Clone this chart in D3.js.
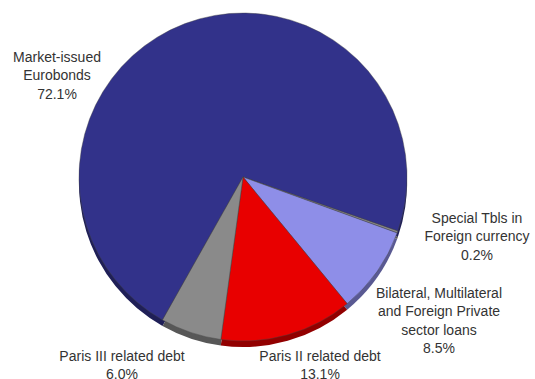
<!DOCTYPE html>
<html>
<head>
<meta charset="utf-8">
<script src="https://cdn.jsdelivr.net/npm/d3@7"></script>
<style>
  body { margin: 0; background: #fff; }
  text { font-family: "Liberation Sans", Helvetica, Arial, sans-serif; font-size: 14px; fill: #333; }
</style>
</head>
<body>
<div id="app"></div>
<script>
// debt composition
const categories = [
  "Market-issued Eurobonds",
  "Special Tbls in Foreign currency",
  "Bilateral, Multilateral and Foreign Private sector loans",
  "Paris II related debt",
  "Paris III related debt"
];
const shares = [72.1, 0.2, 8.5, 13.1, 6.0];
const labelLines = [
  ["Market-issued", "Eurobonds", "72.1%"],
  ["Special Tbls in", "Foreign currency", "0.2%"],
  ["Bilateral, Multilateral", "and Foreign Private", "sector loans", "8.5%"],
  ["Paris II related debt", "13.1%"],
  ["Paris III related debt", "6.0%"]
];
const colors = ["#32328a", "#8a8a8a", "#8e8ee8", "#e80000", "#8a8a8a"];

const width = 535, height = 379;
const cx = 243, cy = 177, radius = 164, depth = 6;

const svg = d3.select("#app").append("svg")
  .attr("width", width)
  .attr("height", height);

const deg = Math.PI / 180;
const pie = d3.pie().sort(null)
  .startAngle(-150.6 * deg)
  .endAngle(209.4 * deg);
const arcs = pie(shares);
const arc = d3.arc().innerRadius(0).outerRadius(radius);

// side / shadow of the 3d pie
const sideG = svg.append("g").attr("transform", `translate(${cx},${cy + depth})`);
sideG.selectAll("path")
  .data(arcs)
  .join("path")
  .attr("d", arc)
  .attr("fill", (d, i) => d3.color(colors[i]).darker(1.3));

const faceG = svg.append("g").attr("transform", `translate(${cx},${cy})`);
faceG.selectAll("path")
  .data(arcs)
  .join("path")
  .attr("d", arc)
  .attr("fill", (d, i) => colors[i])
  .attr("stroke", "#444")
  .attr("stroke-width", 0.6)
  .attr("stroke-opacity", 0.7);

// label anchor points (centre x, first line y)
const labelPos = [[57, 57], [477, 218], [439, 293], [320, 356], [122, 356]];
const lineH = 18.3;

const labels = svg.append("g");
labelLines.forEach((lines, i) => {
  const t = labels.append("text")
    .attr("text-anchor", "middle")
    .attr("x", labelPos[i][0])
    .attr("y", labelPos[i][1]);
  lines.forEach((ln, j) => {
    t.append("tspan")
      .attr("x", labelPos[i][0])
      .attr("y", labelPos[i][1] + j * lineH)
      .attr("dy", "0.35em")
      .text(ln);
  });
});
</script>
</body>
</html>
